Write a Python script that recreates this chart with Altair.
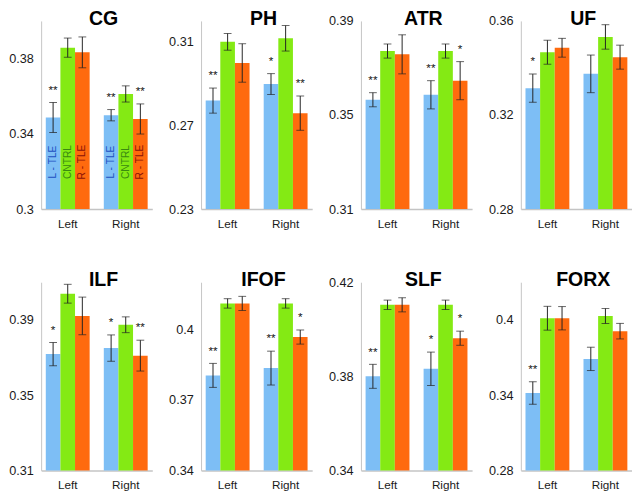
import altair as alt
import pandas as pd

FONT = "Liberation Sans"
sides = ["Left", "Right"]
groups = ["L - TLE", "CNTRL", "R - TLE"]
colors = ["#7dbef5", "#84ea14", "#ff6a0e"]
text_colors = ["#1e4fc2", "#3a8a10", "#8c1208"]

tracts = ["CG", "PH", "ATR", "UF", "ILF", "IFOF", "SLF", "FORX"]

# order: Left (L-TLE, CNTRL, R-TLE), Right (L-TLE, CNTRL, R-TLE)
cg_mean = [0.3487, 0.3858, 0.3833, 0.3499, 0.3612, 0.3479]
cg_err = [0.0080, 0.0051, 0.0082, 0.0030, 0.0043, 0.0080]
cg_sig = ["**", "", "", "**", "", "**"]

ph_mean = [0.2819, 0.3100, 0.2999, 0.2898, 0.3117, 0.2759]
ph_err = [0.0060, 0.0040, 0.0092, 0.0050, 0.0061, 0.0082]
ph_sig = ["**", "", "", "*", "", "**"]

atr_mean = [0.3565, 0.3772, 0.3758, 0.3586, 0.3772, 0.3646]
atr_err = [0.0030, 0.0030, 0.0083, 0.0060, 0.0030, 0.0081]
atr_sig = ["**", "", "", "**", "", "*"]

uf_mean = [0.3314, 0.3467, 0.3486, 0.3375, 0.3532, 0.3446]
uf_err = [0.0060, 0.0051, 0.0040, 0.0080, 0.0052, 0.0051]
uf_sig = ["*", "", "", "", "", ""]

ilf_mean = [0.3718, 0.4039, 0.3921, 0.3750, 0.3874, 0.3710]
ilf_err = [0.0062, 0.0050, 0.0100, 0.0070, 0.0042, 0.0082]
ilf_sig = ["*", "", "", "*", "", "**"]

ifof_mean = [0.3804, 0.4110, 0.4110, 0.3835, 0.4110, 0.3967]
ifof_err = [0.0051, 0.0020, 0.0030, 0.0072, 0.0020, 0.0030]
ifof_sig = ["**", "", "", "**", "", "*"]

slf_mean = [0.3800, 0.4104, 0.4104, 0.3832, 0.4104, 0.3962]
slf_err = [0.0051, 0.0020, 0.0030, 0.0071, 0.0020, 0.0030]
slf_sig = ["**", "", "", "*", "", "*"]

forx_mean = [0.3417, 0.4013, 0.4013, 0.3689, 0.4031, 0.3910]
forx_err = [0.0090, 0.0095, 0.0093, 0.0093, 0.0060, 0.0062]
forx_sig = ["**", "", "", "", "", ""]

domains = [[0.30, 0.40], [0.23, 0.32], [0.31, 0.39], [0.28, 0.36],
           [0.31, 0.41], [0.34, 0.42], [0.34, 0.42], [0.28, 0.43]]
tick_values = [[0.30, 0.34, 0.38], [0.23, 0.27, 0.31], [0.31, 0.35, 0.39],
               [0.28, 0.32, 0.36], [0.31, 0.35, 0.39], [0.34, 0.37, 0.40],
               [0.34, 0.38, 0.42], [0.28, 0.34, 0.40]]

all_means = [cg_mean, ph_mean, atr_mean, uf_mean, ilf_mean, ifof_mean, slf_mean, forx_mean]
all_errs = [cg_err, ph_err, atr_err, uf_err, ilf_err, ifof_err, slf_err, forx_err]
all_sigs = [cg_sig, ph_sig, atr_sig, uf_sig, ilf_sig, ifof_sig, slf_sig, forx_sig]

W = 114
H = 193
AXIS_GRAY = "#c4c4c4"
LABEL_COLOR = "#1a1a1a"


def panel(i):
    name = tracts[i]
    mean = all_means[i]
    err = all_errs[i]
    df = pd.DataFrame({
        "side": [s for s in sides for _ in groups],
        "group": groups * 2,
        "mean": mean,
        "lo": [m - e for m, e in zip(mean, err)],
        "hi": [m + e for m, e in zip(mean, err)],
        "sig": all_sigs[i],
    })
    yscale = alt.Scale(domain=domains[i], nice=False, zero=False)
    base = alt.Chart(df).encode(
        x=alt.X("side:N", sort=sides, title=None,
                scale=alt.Scale(paddingInner=0.244, paddingOuter=0.08),
                axis=alt.Axis(labelAngle=0, ticks=False, domainColor=AXIS_GRAY,
                              domainWidth=1.5, labelFont=FONT, labelFontSize=12,
                              labelPadding=10, labelColor=LABEL_COLOR)),
        xOffset=alt.XOffset("group:N", sort=groups,
                            scale=alt.Scale(paddingInner=0, paddingOuter=0)),
    )
    bars = base.mark_bar().encode(
        y=alt.Y("mean:Q", scale=yscale, title=None,
                axis=alt.Axis(values=tick_values[i], format=".2~f", grid=False,
                              ticks=False, domainColor=AXIS_GRAY, labelFont=FONT,
                              labelFontSize=13, labelPadding=8, labelColor=LABEL_COLOR,
                              minExtent=30, maxExtent=30)),
        y2=alt.datum(domains[i][0]),
        color=alt.Color("group:N", scale=alt.Scale(domain=groups, range=colors),
                        legend=None),
    )
    rule = base.mark_rule(color="#222222", strokeWidth=1).encode(
        y=alt.Y("lo:Q", scale=yscale, title=None), y2="hi:Q")
    cap_lo = base.mark_tick(color="#222222", thickness=1, size=8).encode(
        y=alt.Y("lo:Q", scale=yscale, title=None))
    cap_hi = base.mark_tick(color="#222222", thickness=1, size=8).encode(
        y=alt.Y("hi:Q", scale=yscale, title=None))
    stars = base.transform_filter("datum.sig != ''").mark_text(
        font=FONT, fontSize=12, dy=-9, baseline="alphabetic",
        color="#111111").encode(
        y=alt.Y("hi:Q", scale=yscale, title=None), text="sig:N")
    title = alt.Chart(pd.DataFrame({"t": [name]})).mark_text(
        font=FONT, fontSize=20, fontWeight="bold", baseline="top",
        color="#000000").encode(x=alt.value(64), y=alt.value(-12), text="t:N")
    layers = [bars, rule, cap_lo, cap_hi, stars]
    if i == 0:
        for g, c in zip(groups, text_colors):
            layers.append(
                base.transform_filter(alt.datum.group == g).mark_text(
                    font=FONT, fontSize=10.5, angle=270, baseline="middle",
                    color=c).encode(y=alt.value(H * 0.75), text="group:N"))
    layers.append(title)
    return alt.layer(*layers).properties(width=W, height=H)


row1 = alt.hconcat(*[panel(i) for i in range(4)], spacing=16)
row2 = alt.hconcat(*[panel(i) for i in range(4, 8)], spacing=16)
chart = alt.vconcat(row1, row2, spacing=42).properties(
    padding={"left": 0, "top": -5, "right": 0, "bottom": 0},
    background="white",
).configure_view(stroke=None)

chart.save("out.html", embed_options={"renderer": "svg", "actions": False})
